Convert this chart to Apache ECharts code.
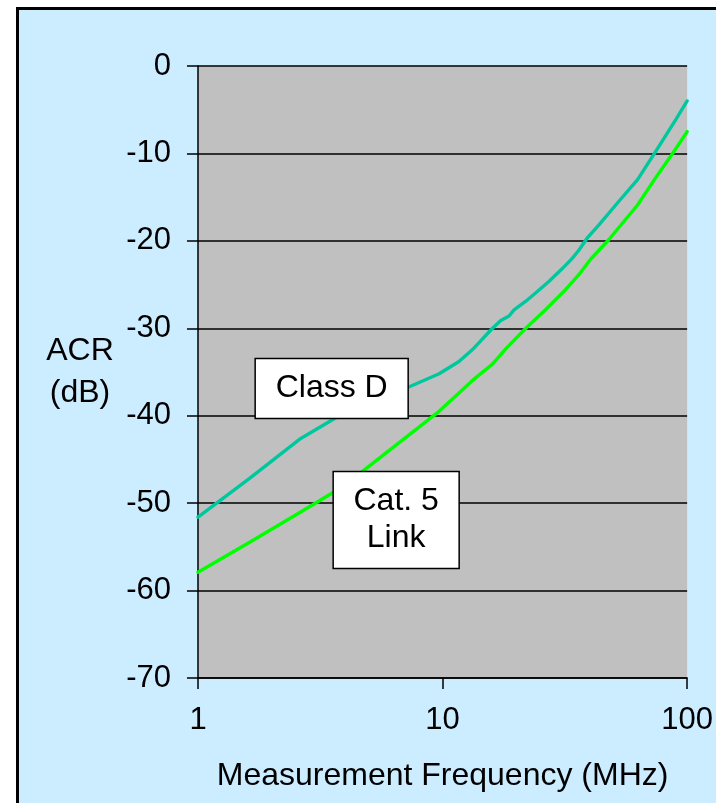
<!DOCTYPE html>
<html>
<head>
<meta charset="utf-8">
<script src="https://cdn.jsdelivr.net/npm/echarts@6/dist/echarts.min.js"></script>
<style>
  html, body { margin: 0; padding: 0; background: #ffffff; }
  #chart { width: 716px; height: 803px; }
</style>
</head>
<body>
<div id="chart"></div>
<script>
// ACR limit curves versus frequency (MHz, log scale)
const classDFreq = [1, 1.62, 2.6, 3.78, 7.16, 9.68, 11.67, 13.4, 16.0, 17.3, 18.7, 19.6, 21.9, 24.4, 27.2, 30.8, 33.9, 36.0, 39.0, 43.5, 52.5, 62.7, 74.3, 89.6, 100];
const classDAcr  = [-51.6, -47.2, -42.7, -40.0, -36.8, -35.2, -33.8, -32.3, -30.0, -29.1, -28.6, -27.9, -26.9, -25.8, -24.65, -23.2, -22.0, -21.1, -19.7, -18.2, -15.5, -13.0, -9.8, -6.2, -4.0];

const cat5Freq = [1, 1.62, 2.6, 3.61, 4.69, 9.68, 11.67, 13.6, 16.0, 18.2, 21.9, 26.3, 31.3, 36.0, 40.3, 47.7, 62.7, 74.3, 88.2, 100];
const cat5Acr  = [-57.9, -54.5, -51.1, -48.7, -46.4, -39.5, -37.4, -35.7, -34.1, -32.3, -30.0, -27.9, -25.8, -23.9, -22.1, -19.9, -15.9, -12.8, -9.8, -7.5];

const yTicks = [-70, -60, -50, -40, -30, -20, -10, 0];
const xTicks = [1, 10, 100];

// Callout boxes, anchored in data coordinates [MHz, dB]
const callouts = [
  { text: 'Class D', at: [3.52, -36.9], w: 153, h: 60 },
  { text: 'Cat. 5\nLink', at: [6.46, -51.94], w: 126, h: 97 }
];

const FONT = '"Liberation Sans", Arial, sans-serif';

const zip = (xs, ys) => xs.map((x, i) => [x, ys[i]]);

const chart = echarts.init(document.getElementById('chart'), null, { renderer: 'canvas' });

const option = {
  animation: false,
  backgroundColor: '#ffffff',
  textStyle: { fontFamily: FONT },
  grid: {
    left: 198, top: 66, right: 27, bottom: 125,
    show: true, backgroundColor: '#C0C0C0', borderWidth: 0
  },
  xAxis: {
    type: 'log', logBase: 10, min: xTicks[0], max: xTicks[xTicks.length - 1],
    name: 'Measurement Frequency (MHz)',
    nameLocation: 'middle', nameGap: 82,
    nameTextStyle: { color: '#000', fontSize: 32, fontFamily: FONT },
    axisLine: { show: true, onZero: false, lineStyle: { color: '#000', width: 1.5 } },
    axisTick: { show: true, inside: false, length: 11, lineStyle: { color: '#000', width: 1.5 } },
    axisLabel: { color: '#000', fontSize: 31, fontFamily: FONT, margin: 27, showMaxLabel: true, showMinLabel: true },
    splitLine: { show: false },
    minorTick: { show: false }
  },
  yAxis: {
    type: 'value', min: yTicks[0], max: yTicks[yTicks.length - 1], interval: 10,
    axisLine: { show: true, onZero: false, lineStyle: { color: '#000', width: 1.5 } },
    axisTick: { show: true, inside: false, length: 11, lineStyle: { color: '#000', width: 1.5 } },
    axisLabel: { color: '#000', fontSize: 31, fontFamily: FONT, margin: 27 },
    splitLine: { show: true, lineStyle: { color: '#000', width: 1.5 } }
  },
  graphic: [
    {
      type: 'rect', z: -10, silent: true,
      shape: { x: 17.5, y: 8.5, width: 760, height: 860 },
      style: { fill: '#CCECFF', stroke: '#000', lineWidth: 3 }
    },
    {
      type: 'text', z: 10, silent: true,
      x: 80, y: 372,
      style: {
        text: 'ACR\n(dB)', fill: '#000', font: '32px ' + FONT,
        align: 'center', verticalAlign: 'middle', lineHeight: 42
      }
    }
  ],
  series: [
    {
      name: 'Class D', type: 'line', data: zip(classDFreq, classDAcr),
      showSymbol: false, symbol: 'none', z: 3,
      lineStyle: { color: '#00C89E', width: 3.4, cap: 'round', join: 'round' }
    },
    {
      name: 'Cat. 5 Link', type: 'line', data: zip(cat5Freq, cat5Acr),
      showSymbol: false, symbol: 'none', z: 3,
      lineStyle: { color: '#00FF00', width: 3.4, cap: 'round', join: 'round' }
    }
  ]
};

chart.setOption(option);

// Place the callout boxes through the chart's own coordinate system
const boxes = callouts.map((c, i) => {
  const [px, py] = chart.convertToPixel({ gridIndex: 0 }, c.at);
  return {
    type: 'group', id: 'callout' + i, x: px, y: py, z: 50,
    children: [
      {
        type: 'rect', z: 50,
        shape: { x: -c.w / 2, y: -c.h / 2, width: c.w, height: c.h },
        style: { fill: '#ffffff', stroke: '#000', lineWidth: 1.5 }
      },
      {
        type: 'text', z: 51,
        style: {
          text: c.text, fill: '#000', font: '32px ' + FONT,
          align: 'center', verticalAlign: 'middle', lineHeight: 37
        }
      }
    ]
  };
});
chart.setOption({ graphic: option.graphic.concat(boxes) });
</script>
</body>
</html>
